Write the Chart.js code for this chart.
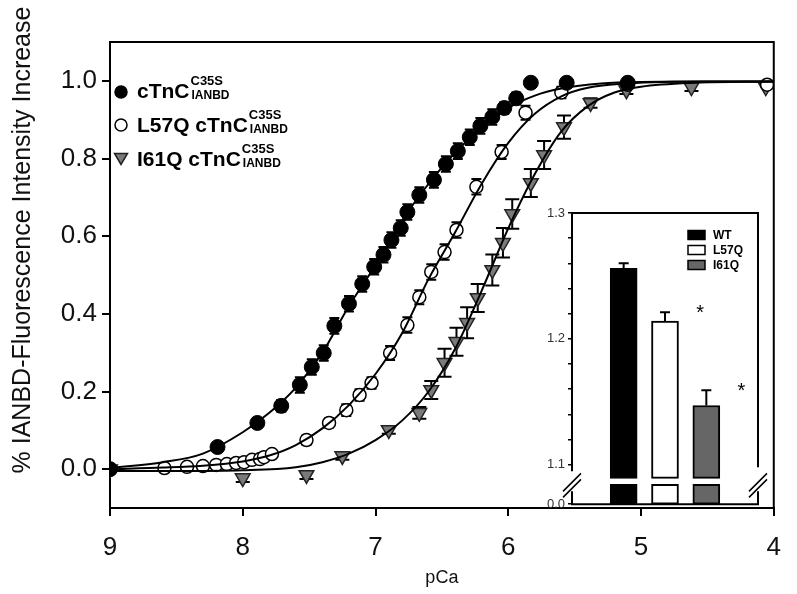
<!DOCTYPE html>
<html>
<head>
    <title>IANBD fluorescence vs pCa</title>
    <script src="https://cdn.jsdelivr.net/npm/chart.js@4.4.0/dist/chart.umd.min.js"></script>
    <style>
        body {
            margin: 0;
            background: #FFFFFF;
            font-family: "Liberation Sans", Arial, sans-serif;
        }
        #wrap { position: relative; width: 797px; height: 594px; }
        #main { position: absolute; left: 0; top: 0; }
        #inset { position: absolute; left: 530px; top: 200px; }
    </style>
</head>
<body>
<div id="wrap">
    <canvas id="main" width="797" height="594"></canvas>
    <canvas id="inset" width="250" height="315"></canvas>
</div>

<script type="text/javascript">
    // cTnC C35S (WT)
    const wtPCa = [9.00, 8.19, 7.89, 7.71, 7.57, 7.48, 7.39, 7.31, 7.20, 7.10, 7.01, 6.94, 6.88, 6.81, 6.76,
                   6.67, 6.56, 6.47, 6.38, 6.29, 6.21, 6.12, 6.03, 5.94, 5.83, 5.56, 5.10];
    const wtVal = [0.00, 0.057, 0.119, 0.163, 0.217, 0.263, 0.299, 0.369, 0.426, 0.477, 0.521, 0.552, 0.590, 0.621, 0.662,
                   0.706, 0.745, 0.786, 0.819, 0.855, 0.884, 0.907, 0.930, 0.955, 0.995, 0.995, 0.995];
    const wtErr = [0, 0.01, 0.012, 0.015, 0.02, 0.02, 0.02, 0.02, 0.02, 0.02, 0.02, 0.02, 0.02, 0.02, 0.02,
                   0.02, 0.02, 0.02, 0.02, 0.02, 0.02, 0.02, 0.015, 0.015, 0, 0.01, 0.01];

    // L57Q
    const l57PCa = [9.00, 8.59, 8.42, 8.30, 8.20, 8.12, 8.05, 7.99, 7.93, 7.87, 7.84, 7.78, 7.52, 7.35, 7.22,
                    7.12, 7.03, 6.89, 6.76, 6.67, 6.58, 6.48, 6.39, 6.24, 6.05, 5.87, 5.60, 5.10, 4.05];
    const l57Val = [0.00, 0.003, 0.006, 0.008, 0.011, 0.013, 0.016, 0.018, 0.024, 0.026, 0.031, 0.039, 0.075, 0.119, 0.152,
                    0.191, 0.222, 0.299, 0.371, 0.443, 0.508, 0.559, 0.616, 0.727, 0.817, 0.918, 0.970, 0.990, 0.990];
    const l57Err = [0, 0.005, 0.005, 0.005, 0.005, 0.005, 0.005, 0.005, 0.005, 0.005, 0.005, 0.008, 0.012, 0.012, 0.015,
                    0.015, 0.015, 0.018, 0.02, 0.018, 0.02, 0.02, 0.02, 0.02, 0.018, 0.018, 0.015, 0.008, 0.008];

    // I61Q
    const i61PCa = [9.00, 8.00, 7.52, 7.25, 6.90, 6.67, 6.58, 6.48, 6.39, 6.31, 6.23, 6.12, 6.04, 5.97, 5.83,
                    5.73, 5.58, 5.38, 5.11, 4.62, 4.06];
    const i61Val = [0.00, -0.023, -0.015, 0.034, 0.101, 0.145, 0.204, 0.274, 0.328, 0.377, 0.441, 0.513, 0.583, 0.657, 0.737,
                    0.809, 0.881, 0.943, 0.976, 0.984, 0.984];
    const i61Err = [0, 0.01, 0.01, 0.01, 0.01, 0.015, 0.023, 0.036, 0.036, 0.04, 0.036, 0.04, 0.038, 0.038, 0.036,
                    0.036, 0.03, 0.012, 0.01, 0.01, 0];

    // fitted curves
    const wtFitPCa = [9.0, 8.6, 8.3, 8.0, 7.8, 7.6, 7.4, 7.2, 7.0, 6.8, 6.6, 6.4, 6.2, 6.0, 5.8, 5.6, 5.3, 5.0, 4.5, 4.0];
    const wtFitVal = [0.003, 0.018, 0.04, 0.095, 0.145, 0.21, 0.30, 0.42, 0.525, 0.64, 0.735, 0.815, 0.88, 0.93, 0.962, 0.98, 0.993, 0.997, 0.998, 0.998];
    const l57FitPCa = [9.0, 8.6, 8.3, 8.0, 7.8, 7.6, 7.4, 7.2, 7.0, 6.8, 6.6, 6.4, 6.2, 6.0, 5.8, 5.6, 5.4, 5.1, 4.5, 4.0];
    const l57FitVal = [0.0, 0.004, 0.009, 0.02, 0.035, 0.062, 0.105, 0.165, 0.245, 0.35, 0.49, 0.61, 0.735, 0.84, 0.915, 0.96, 0.982, 0.993, 0.998, 0.998];
    const i61FitPCa = [9.0, 8.5, 8.0, 7.6, 7.4, 7.2, 7.0, 6.8, 6.6, 6.4, 6.2, 6.0, 5.8, 5.6, 5.4, 5.2, 5.0, 4.6, 4.0];
    const i61FitVal = [-0.005, -0.005, -0.003, 0.005, 0.018, 0.04, 0.075, 0.125, 0.2, 0.31, 0.46, 0.62, 0.76, 0.87, 0.935, 0.97, 0.985, 0.995, 0.998];

    const xTicks = [9, 8, 7, 6, 5, 4];
    const yTicks = [0.0, 0.2, 0.4, 0.6, 0.8, 1.0];

    const legendNames = ['cTnC', 'L57Q cTnC', 'I61Q cTnC'];
    const legendSup = 'C35S';
    const legendSub = 'IANBD';

    // inset bars
    const insetNames = ['WT', 'L57Q', 'I61Q'];
    const insetVal = [1.256, 1.214, 1.147];
    const insetErr = [0.004, 0.007, 0.012];
    const insetStar = [false, true, true];
    const insetTickVals = [1.10, 1.12, 1.14, 1.16, 1.18, 1.20, 1.22, 1.24, 1.26, 1.28, 1.30];
    const insetTickLabels = ['1.1', '', '', '', '', '1.2', '', '', '', '', '1.3'];
    const insetZeroLabel = '0.0';

    const INSET_MIN = 1.0685, BREAK_LOW = 1.0843, BREAK_HIGH = 1.089;

    function pts(xs, ys) {
        return xs.map((x, i) => ({x: x, y: ys[i]}));
    }

    const errorBars = {
        id: 'errorBars',
        beforeDatasetsDraw(chart) {
            const ctx = chart.ctx, xs = chart.scales.x, ys = chart.scales.y;
            ctx.save();
            ctx.strokeStyle = '#000';
            ctx.lineWidth = 2;
            chart.data.datasets.forEach(ds => {
                if (!ds.errors) return;
                ds.data.forEach((p, i) => {
                    const e = ds.errors[i];
                    if (!e) return;
                    const px = xs.getPixelForValue(p.x);
                    const y1 = ys.getPixelForValue(p.y + e), y2 = ys.getPixelForValue(p.y - e);
                    const w = ds.capWidth / 2;
                    ctx.beginPath();
                    ctx.moveTo(px, y1); ctx.lineTo(px, y2);
                    ctx.moveTo(px - w, y1); ctx.lineTo(px + w, y1);
                    ctx.moveTo(px - w, y2); ctx.lineTo(px + w, y2);
                    ctx.stroke();
                });
            });
            ctx.restore();
        }
    };

    const mainDecor = {
        id: 'mainDecor',
        afterDraw(chart) {
            const ctx = chart.ctx, a = chart.chartArea;
            ctx.save();
            // top and right frame
            ctx.strokeStyle = '#000';
            ctx.lineWidth = 2;
            ctx.beginPath();
            ctx.moveTo(a.left, a.top); ctx.lineTo(a.right, a.top); ctx.lineTo(a.right, a.bottom);
            ctx.stroke();

            // y title
            ctx.fillStyle = '#111';
            ctx.font = '25px "Liberation Sans", Arial, sans-serif';
            ctx.translate(23, 240);
            ctx.rotate(-Math.PI / 2);
            ctx.textAlign = 'center';
            ctx.textBaseline = 'middle';
            ctx.fillText('% IANBD-Fluorescence Intensity Increase', 0, 0);
            ctx.restore();

            // legend
            const styles = chart.data.datasets.filter(d => d.legendRow !== undefined);
            ctx.save();
            styles.forEach(ds => {
                const r = ds.legendRow;
                const cy = [92, 125, 158][r];
                const base = [98, 132, 166][r];
                ctx.fillStyle = ds.backgroundColor;
                ctx.strokeStyle = ds.borderColor;
                ctx.lineWidth = 1.5;
                ctx.beginPath();
                if (r === 2) {
                    ctx.moveTo(121 - 6.5, cy - 4.5); ctx.lineTo(121 + 6.5, cy - 4.5); ctx.lineTo(121, cy + 6.5); ctx.closePath();
                } else {
                    ctx.arc(121, cy, 6, 0, Math.PI * 2);
                }
                ctx.fill(); ctx.stroke();
                ctx.fillStyle = '#000';
                ctx.textBaseline = 'alphabetic';
                ctx.textAlign = 'left';
                ctx.font = 'bold 21px "Liberation Sans", Arial, sans-serif';
                const name = legendNames[r];
                ctx.fillText(name, 137, base);
                const w = ctx.measureText(name).width;
                ctx.font = 'bold 13px "Liberation Sans", Arial, sans-serif';
                ctx.fillText(legendSup, 137 + w + 1, base - 13);
                ctx.font = 'bold 12px "Liberation Sans", Arial, sans-serif';
                ctx.fillText(legendSub, 137 + w + 2, base + 1);
            });
            ctx.restore();
        }
    };

    const mainChart = new Chart(document.getElementById('main').getContext('2d'), {
        type: 'scatter',
        data: {
            datasets: [
                {label: 'WT fit', data: pts(wtFitPCa, wtFitVal), showLine: true, borderColor: '#000', borderWidth: 2,
                 pointRadius: 0, cubicInterpolationMode: 'monotone', order: 0},
                {label: 'L57Q fit', data: pts(l57FitPCa, l57FitVal), showLine: true, borderColor: '#000', borderWidth: 2,
                 pointRadius: 0, cubicInterpolationMode: 'monotone', order: 0},
                {label: 'I61Q fit', data: pts(i61FitPCa, i61FitVal), showLine: true, borderColor: '#000', borderWidth: 2,
                 pointRadius: 0, cubicInterpolationMode: 'monotone', order: 0},
                {label: 'cTnC', data: pts(wtPCa, wtVal), errors: wtErr, capWidth: 10, legendRow: 0,
                 pointStyle: 'circle', pointRadius: 7.5, backgroundColor: '#000', borderColor: '#000', borderWidth: 1, order: 1},
                {label: 'L57Q cTnC', data: pts(l57PCa, l57Val), errors: l57Err, capWidth: 10, legendRow: 1,
                 pointStyle: 'circle', pointRadius: 6.5, backgroundColor: '#fff', borderColor: '#000', borderWidth: 1.5, order: 1},
                {label: 'I61Q cTnC', data: pts(i61PCa, i61Val), errors: i61Err, capWidth: 14, legendRow: 2,
                 pointStyle: 'triangle', pointRotation: 180, pointRadius: 8.5,
                 backgroundColor: '#7a7a7a', borderColor: '#222', borderWidth: 1.5, order: 1}
            ]
        },
        options: {
            responsive: false,
            animation: false,
            layout: {padding: {top: 42, right: 21, left: 0, bottom: 0}},
            plugins: {legend: {display: false}, tooltip: {enabled: false}},
            scales: {
                x: {
                    type: 'linear', reverse: true, min: 4, max: 9,
                    afterBuildTicks: s => { s.ticks = xTicks.map(v => ({value: v})); },
                    afterFit: s => { s.height = 86; },
                    ticks: {color: '#111', font: {size: 26}, padding: 16, maxRotation: 0},
                    grid: {drawOnChartArea: false, color: '#000', lineWidth: 2, tickLength: 8},
                    border: {color: '#000', width: 2},
                    title: {display: true, text: 'pCa', color: '#111', font: {size: 18}, padding: {top: 0, bottom: 5}}
                },
                y: {
                    min: -0.1, max: 1.1,
                    afterBuildTicks: s => { s.ticks = yTicks.map(v => ({value: v})); },
                    afterFit: s => { s.width = 110; },
                    ticks: {color: '#111', font: {size: 26}, padding: 5, callback: v => v.toFixed(1)},
                    grid: {drawOnChartArea: false, color: '#000', lineWidth: 2, tickLength: 8},
                    border: {color: '#000', width: 2}
                }
            }
        },
        plugins: [errorBars, mainDecor]
    });

    const insetColors = ['#000000', '#ffffff', '#666666'];

    const insetDecor = {
        id: 'insetDecor',
        beforeDraw(chart) {
            const ctx = chart.ctx, a = chart.chartArea;
            ctx.save();
            ctx.fillStyle = '#fff';
            ctx.fillRect(a.left, a.top, a.right - a.left, a.bottom - a.top);
            ctx.restore();
        },
        afterDraw(chart) {
            const ctx = chart.ctx, a = chart.chartArea, xs = chart.scales.x, ys = chart.scales.y;
            const gapMid = ys.getPixelForValue((BREAK_LOW + BREAK_HIGH) / 2);
            ctx.save();
            ctx.strokeStyle = '#000';
            ctx.lineWidth = 2;
            ctx.beginPath();
            ctx.moveTo(a.left, gapMid - 10); ctx.lineTo(a.left, a.top); ctx.lineTo(a.right, a.top); ctx.lineTo(a.right, gapMid - 14);
            ctx.moveTo(a.right, gapMid + 10); ctx.lineTo(a.right, a.bottom); ctx.lineTo(a.left, a.bottom); ctx.lineTo(a.left, gapMid + 10);
            ctx.stroke();
            // break marks
            ctx.lineWidth = 1.5;
            ctx.beginPath();
            [a.left, a.right].forEach(x => {
                ctx.moveTo(x - 9, gapMid + 10); ctx.lineTo(x + 9, gapMid - 8);
                ctx.moveTo(x - 9, gapMid + 16); ctx.lineTo(x + 9, gapMid - 2);
            });
            ctx.stroke();

            // error bars and asterisks
            ctx.lineWidth = 2;
            chart.data.datasets[0].data.forEach((p, i) => {
                const px = xs.getPixelForValue(p.x);
                const top = ys.getPixelForValue(insetVal[i] + insetErr[i]);
                const barTop = ys.getPixelForValue(insetVal[i]);
                ctx.beginPath();
                ctx.moveTo(px, barTop); ctx.lineTo(px, top);
                ctx.moveTo(px - 5, top); ctx.lineTo(px + 5, top);
                ctx.stroke();
                if (insetStar[i]) {
                    ctx.fillStyle = '#000';
                    ctx.font = '20px "Liberation Sans", Arial, sans-serif';
                    ctx.textAlign = 'center';
                    ctx.textBaseline = 'middle';
                    ctx.fillText('*', xs.getPixelForValue(p.x + 0.85), top + 1);
                }
            });

            // legend
            ctx.font = 'bold 12px "Liberation Sans", Arial, sans-serif';
            ctx.textAlign = 'left';
            ctx.textBaseline = 'middle';
            insetNames.forEach((n, i) => {
                const y = a.top + 22 + i * 15;
                ctx.fillStyle = insetColors[i];
                ctx.fillRect(a.left + 116, y - 4.5, 17, 9);
                ctx.lineWidth = 1.5;
                ctx.strokeStyle = '#000';
                ctx.strokeRect(a.left + 116, y - 4.5, 17, 9);
                ctx.fillStyle = '#000';
                ctx.fillText(n, a.left + 141, y + 1);
            });
            ctx.restore();
        }
    };

    const barStyle = {
        backgroundColor: insetColors, borderColor: '#000', borderWidth: 2,
        barThickness: 27, grouped: false, borderSkipped: false
    };

    const insetChart = new Chart(document.getElementById('inset').getContext('2d'), {
        type: 'bar',
        data: {
            datasets: [
                Object.assign({label: 'upper', data: insetVal.map((v, i) => ({x: i + 1, y: [BREAK_HIGH, v]}))}, barStyle),
                Object.assign({label: 'lower', data: insetVal.map((v, i) => ({x: i + 1, y: [INSET_MIN, BREAK_LOW]}))}, barStyle)
            ]
        },
        options: {
            responsive: false,
            animation: false,
            layout: {padding: {top: 13, right: 22, bottom: 8, left: 0}},
            plugins: {legend: {display: false}, tooltip: {enabled: false}},
            scales: {
                x: {type: 'linear', min: -0.25, max: 4.25, offset: false, display: false},
                y: {
                    min: INSET_MIN, max: 1.3,
                    afterBuildTicks: s => { s.ticks = [INSET_MIN].concat(insetTickVals).map(v => ({value: v})); },
                    afterFit: s => { s.width = 42; },
                    ticks: {
                        color: '#333', font: {size: 13}, padding: 3, autoSkip: false,
                        callback: (v, i) => i === 0 ? insetZeroLabel : insetTickLabels[i - 1]
                    },
                    grid: {drawOnChartArea: false, color: '#000', lineWidth: 1.5, tickLength: 4},
                    border: {display: false}
                }
            }
        },
        plugins: [insetDecor]
    });
</script>
</body>
</html>
